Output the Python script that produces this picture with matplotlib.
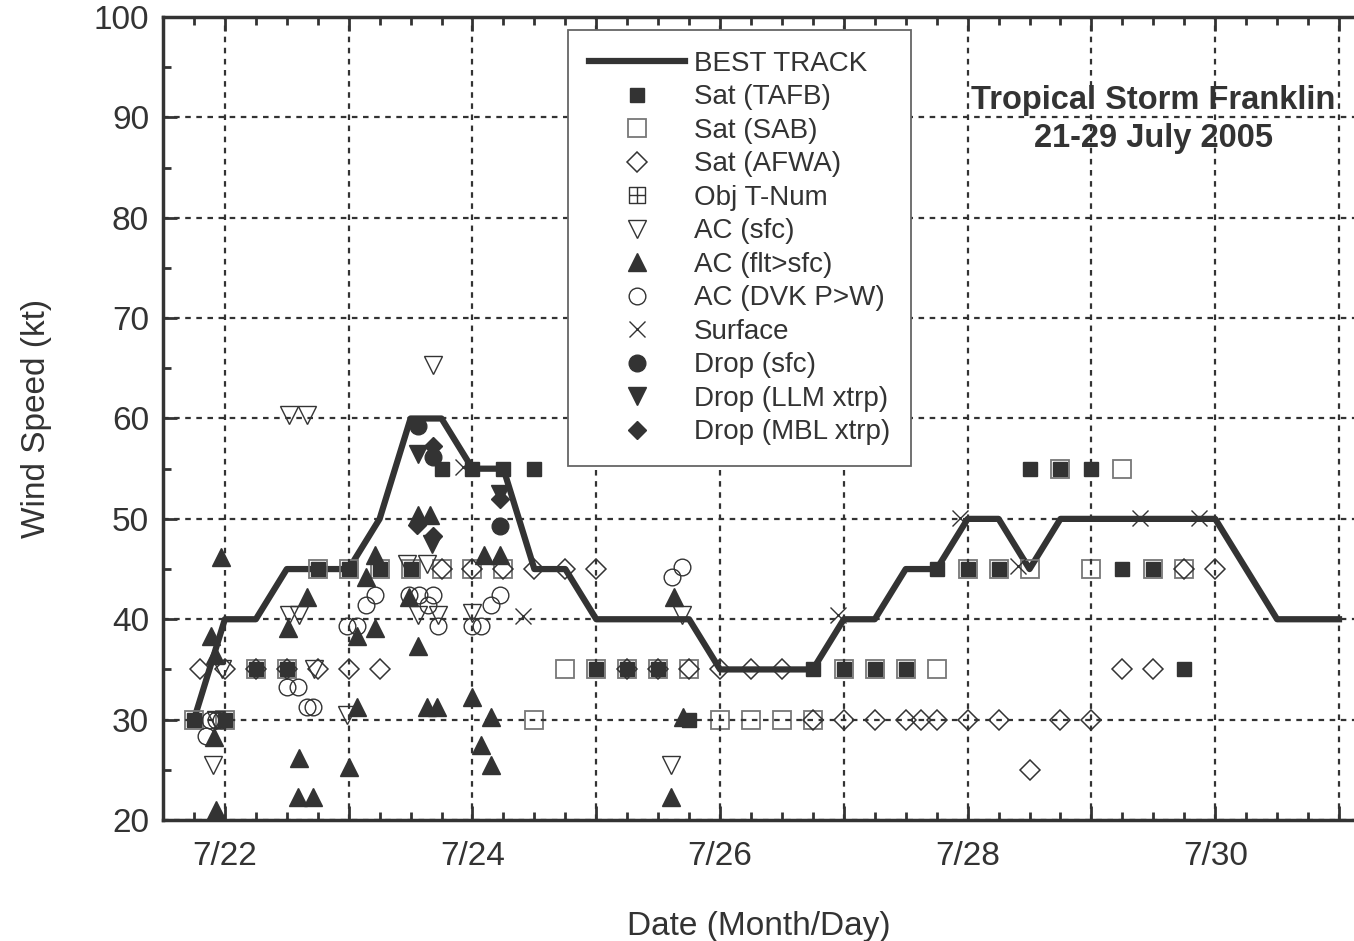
import matplotlib
matplotlib.use('Agg')
import matplotlib.pyplot as plt
from matplotlib.path import Path
from matplotlib.ticker import MultipleLocator, FuncFormatter

plt.rcParams['font.family'] = ['Liberation Sans', 'DejaVu Sans']
dark = '#333333'

# best track (day of July, kt)
bt_day = [21.75, 22.0, 22.25, 22.5, 22.75, 23.0, 23.25, 23.5, 23.75, 24.0, 24.25, 24.5, 24.75,
          25.0, 25.25, 25.5, 25.75, 26.0, 26.25, 26.5, 26.75, 27.0, 27.25, 27.5, 27.75, 28.0,
          28.25, 28.5, 28.75, 29.0, 29.25, 29.5, 29.75, 30.0, 30.25, 30.5, 30.75, 31.0]
bt_wind = [30, 40, 40, 45, 45, 45, 50, 60, 60, 55, 55, 45, 45,
           40, 40, 40, 40, 35, 35, 35, 35, 40, 40, 45, 45, 50,
           50, 45, 50, 50, 50, 50, 50, 50, 45, 40, 40, 40]

# Sat (TAFB)
tafb_day = [21.75, 22.0, 22.25, 22.5, 22.75, 23.0, 23.25, 23.5, 23.75, 24.0, 24.25, 24.5,
            25.0, 25.25, 25.5, 25.75, 26.75, 27.0, 27.25, 27.5, 27.75, 28.0, 28.25,
            28.5, 28.75, 29.0, 29.25, 29.5, 29.75]
tafb_wind = [30, 30, 35, 35, 45, 45, 45, 45, 55, 55, 55, 55,
             35, 35, 35, 30, 35, 35, 35, 35, 45, 45, 45,
             55, 55, 55, 45, 45, 35]

# Sat (SAB)
sab_day = [21.75, 22.0, 22.25, 22.5, 22.75, 23.0, 23.25, 23.5, 23.75, 24.0, 24.25, 24.5,
           24.75, 25.0, 25.25, 25.5, 25.75, 26.0, 26.25, 26.5, 26.75, 27.0, 27.25, 27.5,
           27.75, 28.0, 28.25, 28.5, 28.75, 29.0, 29.25, 29.5, 29.75]
sab_wind = [30, 30, 35, 35, 45, 45, 45, 45, 45, 45, 45, 30,
            35, 35, 35, 35, 35, 30, 30, 30, 30, 35, 35, 35,
            35, 45, 45, 45, 55, 45, 55, 45, 45]

# Sat (AFWA)
afwa_day = [21.8, 22.0, 22.25, 22.5, 22.75, 23.0, 23.25, 23.75, 24.0, 24.25, 24.5, 24.75,
            25.0, 25.25, 25.5, 25.75, 26.0, 26.25, 26.5, 26.75, 27.0, 27.25, 27.5, 27.62,
            27.75, 28.0, 28.25, 28.5, 28.75, 29.0, 29.25, 29.5, 29.75, 30.0]
afwa_wind = [35, 35, 35, 35, 35, 35, 35, 45, 45, 45, 45, 45,
             45, 35, 35, 35, 35, 35, 35, 30, 30, 30, 30, 30,
             30, 30, 30, 25, 30, 30, 35, 35, 45, 45]

# Obj T-Num
objt_day = []
objt_wind = []

# AC (sfc)
acsfc_day = [21.9, 21.93, 21.98, 22.52, 22.6, 22.52, 22.66, 22.72, 22.99, 23.47, 23.63,
             23.56, 23.72, 23.68, 24.0, 25.69, 25.6]
acsfc_wind = [25.5, 30, 35, 40.4, 40.4, 60.3, 60.3, 35, 30.5, 45.5, 45.5,
              40.4, 40.4, 65.3, 40.6, 40.4, 25.5]

# AC (flt>sfc)
acflt_day = [21.97, 21.89, 21.92, 21.91, 21.93, 22.51, 22.66, 22.6, 22.59, 22.71, 23.0,
             23.07, 23.07, 23.14, 23.21, 23.21, 23.49, 23.56, 23.56, 23.66, 23.63, 23.71,
             24.0, 24.09, 24.22, 24.15, 24.07, 24.15, 25.63, 25.6, 25.7]
acflt_wind = [46.2, 38.3, 36.4, 28.3, 21.0, 39.1, 42.2, 26.2, 22.3, 22.3, 25.3,
              31.3, 38.3, 44.2, 46.4, 39.1, 42.2, 37.3, 50.4, 50.4, 31.3, 31.3,
              32.3, 46.4, 46.4, 30.3, 27.5, 25.5, 42.2, 22.3, 30.3]

# AC (DVK P>W)
dvk_day = [21.85, 21.88, 21.93, 21.97, 22.5, 22.59, 22.66, 22.71, 22.99, 23.07, 23.14,
           23.21, 23.49, 23.57, 23.68, 23.64, 23.72, 24.0, 24.07, 24.15, 24.22, 25.61, 25.69]
dvk_wind = [28.4, 30, 30, 30, 33.3, 33.3, 31.3, 31.3, 39.3, 39.3, 41.4,
            42.4, 42.4, 42.4, 42.4, 41.4, 39.3, 39.3, 39.3, 41.4, 42.4, 44.2, 45.2]

# Surface
sfc_day = [23.92, 24.41, 26.95, 27.94, 28.41, 29.39, 29.87]
sfc_wind = [55.2, 40.3, 40.4, 50.1, 45.3, 50.1, 50.1]

# Dropsondes
dsfc_day = [23.56, 23.68, 24.22]
dsfc_wind = [59.3, 56.2, 49.3]
dllm_day = [23.56, 23.67, 24.22]
dllm_wind = [56.5, 47.5, 52.5]
dmbl_day = [23.68, 23.55, 23.68, 24.22]
dmbl_wind = [57.3, 49.4, 48.3, 52.0]

# square with a plus inside
boxplus = Path([(-1, -1), (1, -1), (1, 1), (-1, 1), (-1, -1), (0, -1), (0, 1), (-1, 0), (1, 0)],
               [Path.MOVETO, Path.LINETO, Path.LINETO, Path.LINETO, Path.CLOSEPOLY,
                Path.MOVETO, Path.LINETO, Path.MOVETO, Path.LINETO])

fig = plt.figure(figsize=(13.54, 9.41), dpi=100)
ax = fig.add_axes([163 / 1354, 121 / 941, 1 - 163 / 1354, 803 / 941])

ax.plot(bt_day, bt_wind, color=dark, lw=4.5, label='BEST TRACK', zorder=2)
ax.plot(tafb_day, tafb_wind, 's', ms=9.5, color=dark, mec=dark, ls='none', label='Sat (TAFB)')
ax.plot(sab_day, sab_wind, 's', ms=12.5, mfc='none', mec='#777777', mew=1.3, ls='none', label='Sat (SAB)')
ax.plot(afwa_day, afwa_wind, 'D', ms=10, mfc='none', mec=dark, mew=1.1, ls='none', label='Sat (AFWA)')
ax.plot(objt_day, objt_wind, marker=boxplus, ms=12, mfc='none', mec=dark, mew=1.0, ls='none', label='Obj T-Num')
ax.plot(acsfc_day, acsfc_wind, 'v', ms=12.5, mfc='none', mec=dark, mew=1.0, ls='none', label='AC (sfc)')
ax.plot(acflt_day, acflt_wind, '^', ms=12.5, color=dark, ls='none', label='AC (flt>sfc)')
ax.plot(dvk_day, dvk_wind, 'o', ms=12, mfc='none', mec=dark, mew=1.0, ls='none', label='AC (DVK P>W)')
ax.plot(sfc_day, sfc_wind, 'x', ms=12, color=dark, mew=1.0, ls='none', label='Surface')
ax.plot(dsfc_day, dsfc_wind, 'o', ms=12, color=dark, ls='none', label='Drop (sfc)')
ax.plot(dllm_day, dllm_wind, 'v', ms=12.5, color=dark, ls='none', label='Drop (LLM xtrp)')
ax.plot(dmbl_day, dmbl_wind, 'D', ms=9.5, color=dark, ls='none', label='Drop (MBL xtrp)')

ax.text(29.5, 89.8, 'Tropical Storm Franklin\n21-29 July 2005', ha='center', va='center',
        fontsize=23.5, fontweight='bold', color=dark, linespacing=1.3, zorder=1)

ax.set_xlim(21.5, 31.0 + 15 / 123.75)
ax.set_ylim(20, 100)

ax.xaxis.set_major_locator(MultipleLocator(1))
ax.xaxis.set_minor_locator(MultipleLocator(0.25))
ax.xaxis.set_major_formatter(FuncFormatter(lambda v, p: '7/%d' % round(v) if round(v) % 2 == 0 else ''))
ax.yaxis.set_major_locator(MultipleLocator(10))
ax.yaxis.set_minor_locator(MultipleLocator(5))

ax.set_axisbelow(False)
ax.grid(which='major', color=dark, ls=(0, (2.5, 2.5)), lw=1.6)

ax.tick_params(which='both', direction='in', colors=dark, width=2, labelsize=24, top=True, right=False)
ax.tick_params(which='major', length=10)
ax.tick_params(which='minor', length=6)
ax.tick_params(axis='x', which='major', pad=15)
ax.tick_params(axis='y', which='major', pad=10)

for side in ['left', 'bottom', 'top']:
    ax.spines[side].set_linewidth(2.5)
    ax.spines[side].set_color(dark)
ax.spines['right'].set_visible(False)

ax.set_xlabel('Date (Month/Day)', fontsize=24, color=dark, labelpad=28)
ax.set_ylabel('Wind Speed (kt)', fontsize=24, color=dark, labelpad=30)

leg = ax.legend(loc='upper left', bbox_to_anchor=(405 / 1191, (820 - 30) / 803), borderaxespad=0,
                fontsize=20, frameon=True, fancybox=False, handlelength=3.45, handletextpad=0.32,
                labelspacing=0.27, borderpad=0.75, framealpha=1)
leg.get_frame().set_edgecolor('#666666')
leg.get_frame().set_linewidth(1.3)
for t in leg.get_texts():
    t.set_color(dark)

fig.savefig('out.png', dpi=100)
